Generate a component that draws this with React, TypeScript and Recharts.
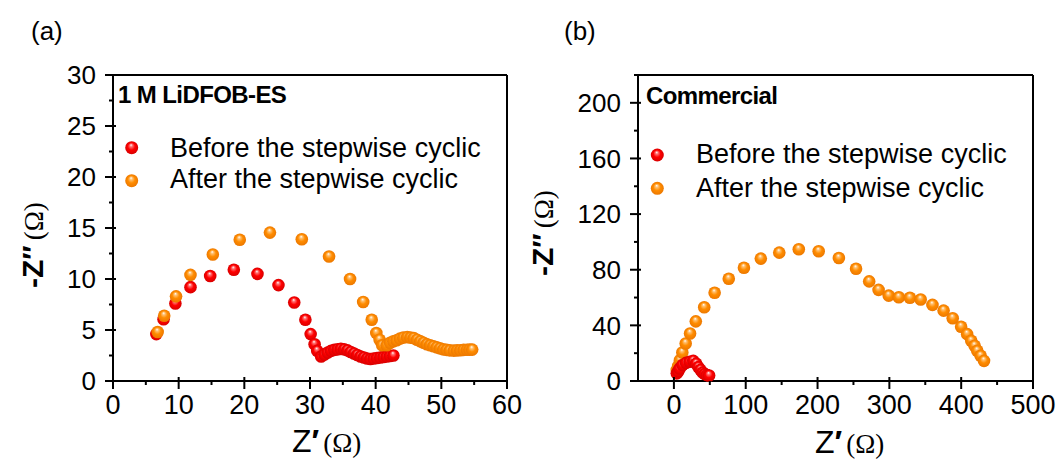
import { ScatterChart, Scatter, XAxis, YAxis } from "recharts"

const FONT = "'Liberation Sans', Arial, sans-serif"
const SERIF = "'Liberation Serif', 'Times New Roman', serif"

// (a) 1 M LiDFOB-ES
const beforeReA = [6.6, 7.7, 9.5, 11.8, 14.8, 18.4, 22.0, 25.2, 27.6, 29.3, 30.1, 30.7, 31.1, 31.7, 32.2, 32.7, 33.2, 33.7, 34.2, 34.7, 35.2, 35.7, 36.2, 36.7, 37.2, 37.7, 38.2, 38.7, 39.2, 39.7, 40.2, 40.7, 41.2, 41.7, 42.2, 42.7]
const beforeImA = [4.6, 6.05, 7.6, 9.2, 10.3, 10.9, 10.5, 9.4, 7.7, 6.0, 4.6, 3.6, 2.95, 2.4, 2.6, 2.8, 2.95, 3.05, 3.1, 3.15, 3.1, 3.0, 2.85, 2.7, 2.55, 2.4, 2.3, 2.2, 2.15, 2.2, 2.25, 2.3, 2.35, 2.4, 2.45, 2.5]
const afterReA = [6.8, 7.8, 9.6, 11.8, 15.2, 19.3, 23.9, 28.75, 32.9, 36.1, 38.1, 39.4, 40.1, 40.6, 41.0, 41.7, 42.2, 42.7, 43.2, 43.7, 44.2, 44.8, 45.3, 45.8, 46.3, 46.8, 47.3, 47.8, 48.3, 48.8, 49.3, 49.8, 50.3, 50.8, 51.3, 51.9, 52.4, 52.9, 53.4, 53.9, 54.3, 54.7]
const afterImA = [4.8, 6.4, 8.3, 10.4, 12.4, 13.85, 14.55, 13.9, 12.2, 10.0, 7.75, 6.0, 4.7, 4.05, 3.5, 3.5, 3.75, 3.9, 4.0, 4.15, 4.25, 4.3, 4.25, 4.2, 4.05, 3.9, 3.75, 3.6, 3.5, 3.4, 3.3, 3.2, 3.1, 3.05, 3.0, 2.98, 3.0, 3.02, 3.05, 3.07, 3.08, 3.08]

const xMajorA = [0, 10, 20, 30, 40, 50, 60]
const xMinorA = [5, 15, 25, 35, 45, 55]
const yMajorA = [0, 5, 10, 15, 20, 25, 30]
const yMinorA = [2.5, 7.5, 12.5, 17.5, 22.5, 27.5]

// (b) Commercial
const beforeReB = [4, 6, 8, 12, 17, 22, 27, 31, 34, 37, 40, 43, 46, 49]
const beforeImB = [5.5, 7, 9, 11.5, 13, 13.8, 14.5, 12.5, 10, 8, 6, 5, 4.2, 4]
const afterReB = [4, 6, 8.4, 11.7, 16.4, 22.5, 30.5, 42.2, 56.7, 76.4, 97.5, 121, 146.7, 173.9, 201.6, 229.7, 253.6, 271.9, 285, 299.1, 313.2, 328.6, 343.6, 360, 375.5, 388.2, 399.9, 408.3, 414, 418.7, 422.4, 427.1, 431.8]
const afterImB = [8, 10.8, 14.9, 20.5, 27, 34.2, 42.9, 53, 63.4, 73.5, 81.4, 88, 92.3, 94.7, 93.3, 88.4, 80.7, 71.6, 65.5, 61.4, 60.2, 59.8, 58.6, 54.7, 50.6, 45.1, 39, 33.7, 28.9, 25.3, 21.7, 18.1, 14.5]

const xMajorB = [0, 100, 200, 300, 400, 500]
const xMinorB = [50, 150, 250, 350, 450]
const yMajorB = [0, 40, 80, 120, 160, 200]
const yMinorB = [20, 60, 100, 140, 180, 220]

const zip = (xs: number[], ys: number[]) => xs.map((x, i) => ({ x, y: ys[i] }))

const bottomTick = (majors: number[]) => (props: any) => {
  const { x, y, payload } = props
  const major = majors.includes(payload.value)
  return (
    <g>
      <line x1={x} x2={x} y1={major ? y - 4 : y} y2={y + (major ? 8 : 4)} stroke="#000" strokeWidth={2} />
      {major && (
        <text x={x} y={y + 14} dy="0.71em" textAnchor="middle" fontSize={27} fontFamily={FONT} fill="#000">
          {payload.value}
        </text>
      )}
    </g>
  )
}

const leftTick = (majors: number[]) => (props: any) => {
  const { x, y, payload } = props
  const major = majors.includes(payload.value)
  return (
    <g>
      <line x1={major ? x + 3 : x} x2={x - (major ? 8 : 4)} y1={y} y2={y} stroke="#000" strokeWidth={2} />
      {major && (
        <text x={x - 17} y={y} dy="0.36em" textAnchor="end" fontSize={26} fontFamily={FONT} fill="#000">
          {payload.value}
        </text>
      )}
    </g>
  )
}

const rightTick = (majors: number[]) => (props: any) => {
  const { x, y, payload } = props
  const major = majors.includes(payload.value)
  return <line x1={x} x2={x - (major ? 7 : 4)} y1={y} y2={y} stroke="#000" strokeWidth={2} />
}

const ball = (id: string) => (props: any) => <circle cx={props.cx} cy={props.cy} r={6.3} fill={`url(#${id})`} />

function Gradients({ p }: { p: string }) {
  return (
    <defs>
      <radialGradient id={`${p}red`} cx="0.5" cy="0.5" r="0.5" fx="0.45" fy="0.28">
        <stop offset="0" stopColor="#ffffff" />
        <stop offset="0.22" stopColor="#ff7070" />
        <stop offset="0.55" stopColor="#ff0000" />
        <stop offset="1" stopColor="#d80000" />
      </radialGradient>
      <radialGradient id={`${p}org`} cx="0.5" cy="0.5" r="0.5" fx="0.45" fy="0.28">
        <stop offset="0" stopColor="#ffffff" />
        <stop offset="0.22" stopColor="#ffc070" />
        <stop offset="0.55" stopColor="#ff8c00" />
        <stop offset="1" stopColor="#ec7800" />
      </radialGradient>
    </defs>
  )
}

type PanelProps = {
  id: string
  left: number
  width: number
  marginLeft: number
  marginRight: number
  xDomain: [number, number]
  yDomain: [number, number]
  xMajor: number[]
  xMinor: number[]
  yMajor: number[]
  yMinor: number[]
  before: { x: number; y: number }[]
  after: { x: number; y: number }[]
  redOnTop: boolean
}

function Panel(p: PanelProps) {
  const xTicks = [...p.xMajor, ...p.xMinor].sort((a, b) => a - b)
  const yTicks = [...p.yMajor, ...p.yMinor].sort((a, b) => a - b)
  const red = (
    <Scatter key="red" data={p.before} xAxisId="b" yAxisId="l" shape={ball(`${p.id}red`)} isAnimationActive={false} />
  )
  const org = (
    <Scatter key="org" data={p.after} xAxisId="b" yAxisId="l" shape={ball(`${p.id}org`)} isAnimationActive={false} />
  )
  return (
    <div style={{ position: "absolute", left: p.left, top: 0 }}>
      <ScatterChart
        width={p.width}
        height={459}
        margin={{ top: 75, right: p.marginRight, bottom: 38, left: p.marginLeft }}
      >
        <Gradients p={p.id} />
        <XAxis
          xAxisId="b"
          type="number"
          dataKey="x"
          domain={p.xDomain}
          ticks={xTicks}
          interval={0}
          height={40}
          tickSize={0}
          tickMargin={0}
          tickLine={false}
          axisLine={{ stroke: "#000", strokeWidth: 2 }}
          tick={bottomTick(p.xMajor)}
        />
        <XAxis
          xAxisId="t"
          orientation="top"
          mirror
          type="number"
          domain={p.xDomain}
          tick={false}
          tickLine={false}
          axisLine={{ stroke: "#000", strokeWidth: 2 }}
        />
        <YAxis
          yAxisId="l"
          type="number"
          dataKey="y"
          domain={p.yDomain}
          ticks={yTicks}
          interval={0}
          width={60}
          tickSize={0}
          tickMargin={0}
          tickLine={false}
          axisLine={{ stroke: "#000", strokeWidth: 2 }}
          tick={leftTick(p.yMajor)}
        />
        <YAxis
          yAxisId="r"
          orientation="right"
          mirror
          type="number"
          domain={p.yDomain}
          ticks={yTicks}
          interval={0}
          tickSize={0}
          tickMargin={0}
          tickLine={false}
          axisLine={{ stroke: "#000", strokeWidth: 2 }}
          tick={rightTick(p.yMajor)}
        />
        {p.redOnTop ? [org, red] : [red, org]}
      </ScatterChart>
    </div>
  )
}

const legendNames = ["Before the stepwise cyclic", "After the stepwise cyclic"]

export default function App() {
  return (
    <div
      style={{
        position: "absolute",
        left: 0,
        top: 0,
        width: 1061,
        height: 459,
        background: "#fff",
        overflow: "hidden",
        fontFamily: FONT,
      }}
    >
      <Panel
        id="a"
        left={0}
        width={530}
        marginLeft={53}
        marginRight={23}
        xDomain={[0, 60]}
        yDomain={[0, 30]}
        xMajor={xMajorA}
        xMinor={xMinorA}
        yMajor={yMajorA}
        yMinor={yMinorA}
        before={zip(beforeReA, beforeImA)}
        after={zip(afterReA, afterImA)}
        redOnTop={false}
      />
      <Panel
        id="b"
        left={520}
        width={541}
        marginLeft={58}
        marginRight={28}
        xDomain={[-50, 500]}
        yDomain={[0, 220]}
        xMajor={xMajorB}
        xMinor={xMinorB}
        yMajor={yMajorB}
        yMinor={yMinorB}
        before={zip(beforeReB, beforeImB)}
        after={zip(afterReB, afterImB)}
        redOnTop={true}
      />
      <svg
        width={1061}
        height={459}
        style={{ position: "absolute", left: 0, top: 0, pointerEvents: "none" }}
        fontFamily={FONT}
      >
        <Gradients p="lg" />
        <text x={31} y={40} fontSize={26} fill="#000">(a)</text>
        <text x={564} y={40} fontSize={26} fill="#000">(b)</text>

        <text x={118} y={103} fontSize={24} fontWeight="bold" letterSpacing={-0.6} fill="#000">1 M LiDFOB-ES</text>
        <text x={646} y={104} fontSize={24} fontWeight="bold" letterSpacing={-0.6} fill="#000">Commercial</text>

        <circle cx={131.7} cy={147.7} r={6.5} fill="url(#lgred)" />
        <circle cx={131.7} cy={180.7} r={6.5} fill="url(#lgorg)" />
        <text x={170} y={156.7} fontSize={27} fill="#000">{legendNames[0]}</text>
        <text x={170} y={188.3} fontSize={27} fill="#000">{legendNames[1]}</text>

        <circle cx={657.3} cy={155} r={6.5} fill="url(#lgred)" />
        <circle cx={657.3} cy={188.3} r={6.5} fill="url(#lgorg)" />
        <text x={696} y={163} fontSize={27} fill="#000">{legendNames[0]}</text>
        <text x={696} y={196.5} fontSize={27} fill="#000">{legendNames[1]}</text>

        <text transform="translate(43,288) rotate(-90)" fill="#000">
          <tspan fontSize={30} fontWeight="bold">-Z″</tspan>
          <tspan dx={5} fontSize={27} fontFamily={SERIF}>(Ω)</tspan>
        </text>
        <text transform="translate(553,276) rotate(-90)" fill="#000">
          <tspan fontSize={30} fontWeight="bold">-Z″</tspan>
          <tspan dx={5} fontSize={27} fontFamily={SERIF}>(Ω)</tspan>
        </text>

        <text x={292} y={452} fill="#000">
          <tspan fontSize={32}>Z</tspan>
          <tspan fontSize={32} fontWeight="bold">′</tspan>
          <tspan dx={4} fontSize={27} fontFamily={SERIF}>(Ω)</tspan>
        </text>
        <text x={815} y={453} fill="#000">
          <tspan fontSize={32}>Z</tspan>
          <tspan fontSize={32} fontWeight="bold">′</tspan>
          <tspan dx={4} fontSize={27} fontFamily={SERIF}>(Ω)</tspan>
        </text>
      </svg>
    </div>
  )
}
